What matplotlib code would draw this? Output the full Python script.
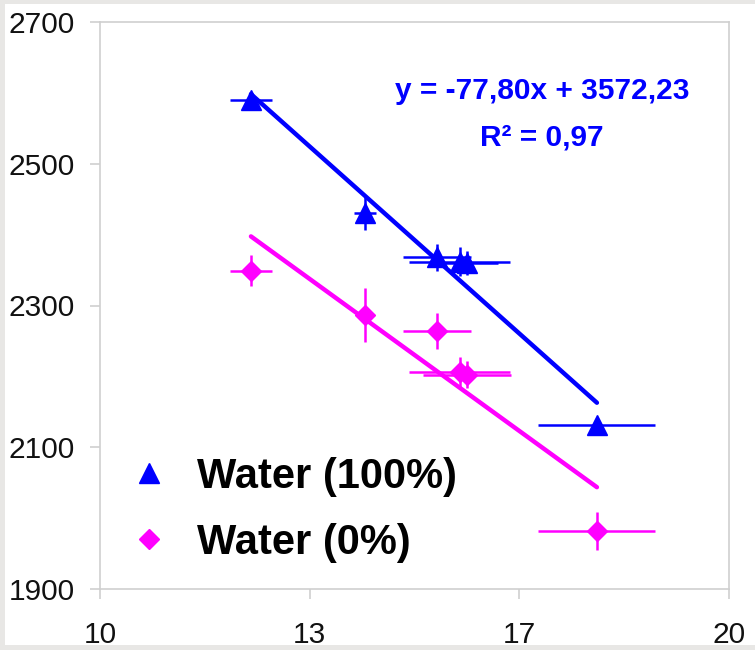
import numpy as np
import matplotlib
matplotlib.use("Agg")
import matplotlib.pyplot as plt
from matplotlib.patches import Rectangle

plt.rcParams['font.family'] = ['Liberation Sans', 'DejaVu Sans']

# Water (100%)
x_full = [12.40, 14.21, 15.36, 15.72, 15.83, 17.90]
y_full = [2590, 2430, 2368, 2362, 2360, 2132]
xerr_full = [0.33, 0.17, 0.54, 0.80, 0.50, 0.93]
yerr_full = [6, 24, 19, 21, 17, 10]

# Water (0%)
x_zero = [12.40, 14.21, 15.36, 15.72, 15.83, 17.90]
y_zero = [2349, 2287, 2264, 2206, 2202, 1982]
xerr_zero = [0.33, 0.10, 0.54, 0.80, 0.70, 0.93]
yerr_zero = [22, 38, 26, 21, 19, 27]

labels = ['Water (100%)', 'Water (0%)']
eq_text = 'y = -77,80x + 3572,23'
r2_text = 'R² = 0,97'

x_ticks = [10, 10 + 10 / 3, 10 + 20 / 3, 20]
x_ticklabels = ['10', '13', '17', '20']
y_ticks = [1900, 2100, 2300, 2500, 2700]

blue = '#0000ff'
magenta = '#ff00ff'
grid_gray = '#cfcfcf'

fig = plt.figure(figsize=(7.55, 6.5), dpi=100)
fig.patch.set_facecolor('#e8e7e5')
fig.patches.append(Rectangle((5 / 755, 5 / 650), 1, 1 - 9 / 650, transform=fig.transFigure,
                             facecolor='white', edgecolor='none', zorder=-10))

ax = fig.add_axes([100 / 755, 1 - 589 / 650, 629 / 755, 567 / 650])
ax.set_facecolor('white')

# trend lines from least squares fit
for xs, ys, c in [(x_full, y_full, blue), (x_zero, y_zero, magenta)]:
    k, b = np.polyfit(xs, ys, 1)
    xl = np.array([min(xs), max(xs)])
    ax.plot(xl, k * xl + b, color=c, lw=3.2, solid_capstyle='round', zorder=2)

ax.errorbar(x_full, y_full, xerr=xerr_full, yerr=yerr_full, fmt='none',
            ecolor=blue, elinewidth=1.8, capsize=0, zorder=3)
ax.errorbar(x_zero, y_zero, xerr=xerr_zero, yerr=yerr_zero, fmt='none',
            ecolor=magenta, elinewidth=1.8, capsize=0, zorder=3)
ax.plot(x_full, y_full, ls='none', marker='^', ms=15, color=blue, mec=blue,
        label=labels[0], zorder=4)
ax.plot(x_zero, y_zero, ls='none', marker='D', ms=10, color=magenta, mec=magenta,
        label=labels[1], zorder=4)

ax.set_xlim(10, 20)
ax.set_ylim(1900, 2700)
ax.set_xticks(x_ticks)
ax.set_xticklabels(x_ticklabels)
ax.set_yticks(y_ticks)
for s in ax.spines.values():
    s.set_color(grid_gray)
    s.set_linewidth(1.2)
ax.tick_params(axis='both', colors=grid_gray, labelcolor='#111111', labelsize=21.5,
               length=7, width=1.2, direction='out')
ax.tick_params(axis='y', pad=11)
ax.tick_params(axis='x', pad=16)

ax.text(542 / 755, 1 - 91 / 650, eq_text, transform=fig.transFigure, ha='center', va='center',
        fontsize=21.5, fontweight='bold', color=blue)
ax.text(542 / 755, 1 - 137 / 650, r2_text, transform=fig.transFigure, ha='center', va='center',
        fontsize=21.5, fontweight='bold', color=blue)

leg = ax.legend(loc='upper left', bbox_to_anchor=(128 / 755, 1 - 457 / 650),
                bbox_transform=fig.transFigure, frameon=False,
                prop={'weight': 'bold', 'size': 30}, handlelength=1.0, handletextpad=0.65,
                labelspacing=0.62, borderpad=0, borderaxespad=0)

fig.savefig('out.png', dpi=100, facecolor=fig.get_facecolor())
